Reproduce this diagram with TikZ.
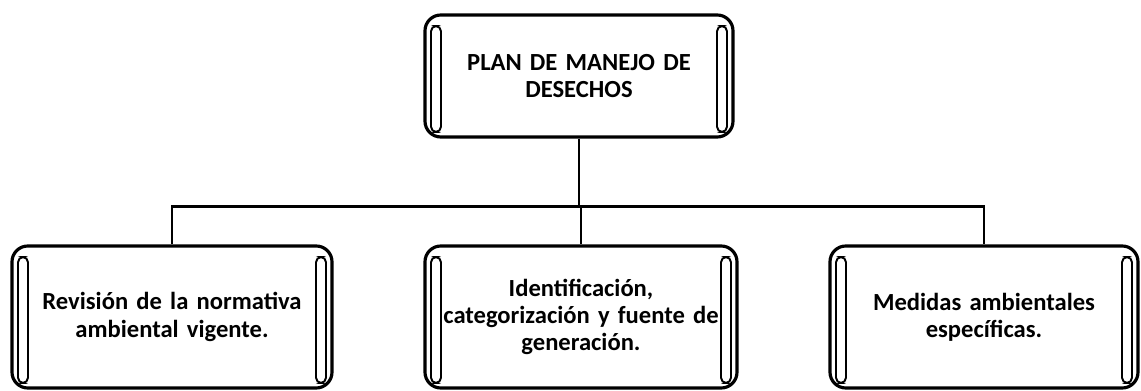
\documentclass[tikz,border=0pt]{standalone}
\usepackage{fontspec}
\setmainfont{Carlito}
\usepackage{tikz}
\usetikzlibrary{positioning,calc}

\begin{document}
\begin{tikzpicture}[scrollbox/.style={draw=black,line width=1.8pt,rounded corners=9pt,align=center,text width=#1,minimum height=2.84cm,font=\fontsize{14}{15.5}\selectfont\bfseries,
  path picture={\draw[line width=1.1pt,rounded corners=3pt] ($(path picture bounding box.north west)+(0.12,-0.22)$) rectangle ($(path picture bounding box.south west)+(0.32,0.1)$);
  \draw[line width=1.1pt,rounded corners=3pt] ($(path picture bounding box.north east)+(-0.12,-0.22)$) rectangle ($(path picture bounding box.south east)+(-0.32,0.1)$);}},
  link/.style={draw=black,line width=1.5pt}]
\useasboundingbox (0,0) rectangle (22.82,7.82);
\node[scrollbox=5.6cm,minimum width=6.16cm,minimum height=2.44cm] (plan) at (11.58,6.30) {PLAN DE MANEJO DE\\DESECHOS};
\node[scrollbox=5.8cm,minimum width=6.4cm] (norma) at (3.44,1.48) {Revisión de la normativa\\ambiental vigente.};
\node[scrollbox=5.8cm,minimum width=6.24cm] (ident) at (11.62,1.48) {Identificación,\\categorización y fuente de\\generación.};
\node[scrollbox=5.6cm,minimum width=6.16cm] (medidas) at (19.68,1.48) {Medidas ambientales\\específicas.};
\draw[link] (plan.south) -- ++(0,-1.36) coordinate (bus);
\draw[link] (bus) -| (norma.north);\draw[link] (bus) -| (ident.north);\draw[link] (bus) -| (medidas.north);
\end{tikzpicture}
\end{document}
